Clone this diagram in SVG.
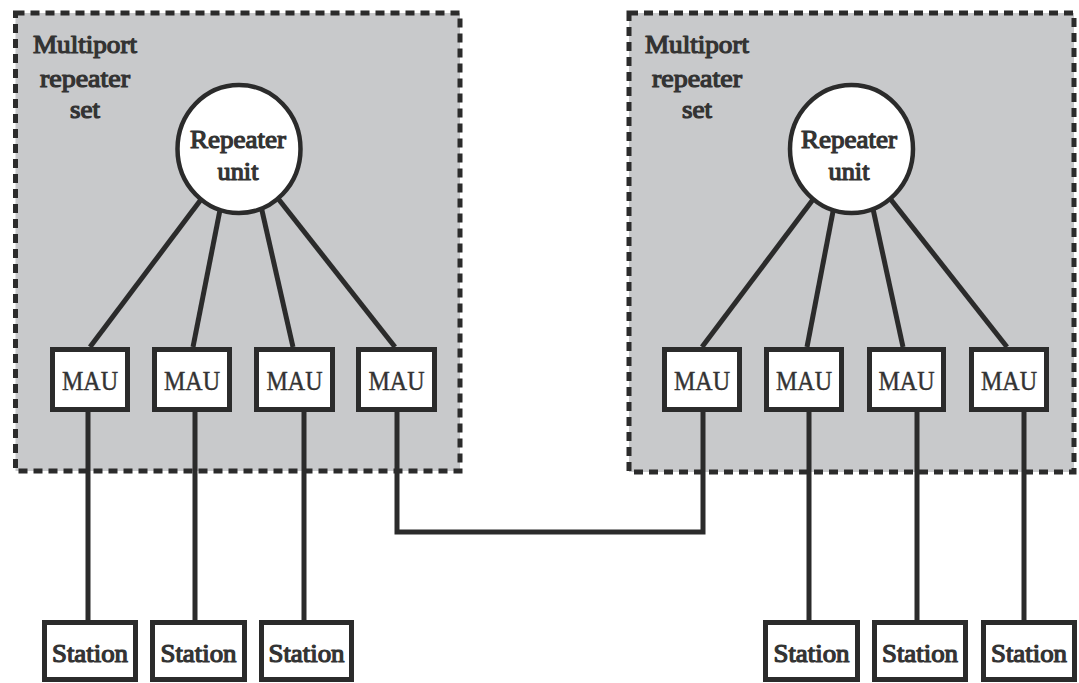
<svg xmlns="http://www.w3.org/2000/svg" width="1079" height="683" viewBox="0 0 1079 683">
  <style>
    .set { fill: #c8c9cb; stroke: #2b2b2b; stroke-width: 5; stroke-dasharray: 9 6; }
    .wire { stroke: #2b2b2b; stroke-width: 5; fill: none; }
    .box { fill: #ffffff; stroke: #2b2b2b; stroke-width: 5; }
    .hub { fill: #ffffff; stroke: #2b2b2b; stroke-width: 4.5; }
    text { font-family: 'Liberation Serif', 'Times New Roman', serif; fill: #333333; text-anchor: middle; }
    /* heavy labels: regular face thickened with a thin outline */
    .b { font-size: 25px; stroke: #333333; stroke-width: 1.2px; stroke-linejoin: round; }
    .mau { font-size: 27px; stroke: #333333; stroke-width: 0.4px; }
  </style>
  <rect width="1079" height="683" fill="#ffffff"/>

  <!-- repeater set enclosures -->
  <g id="set-left">
    <rect class="set" x="15.5" y="13" width="444.5" height="458"/>
    <text class="b" x="85" y="53" textLength="104" lengthAdjust="spacingAndGlyphs">Multiport</text>
    <text class="b" x="85" y="87" textLength="90" lengthAdjust="spacingAndGlyphs">repeater</text>
    <text class="b" x="85" y="118" textLength="30" lengthAdjust="spacingAndGlyphs">set</text>
  </g>
  <g id="set-right">
    <rect class="set" x="629" y="13" width="445" height="459"/>
    <text class="b" x="697" y="53" textLength="104" lengthAdjust="spacingAndGlyphs">Multiport</text>
    <text class="b" x="697" y="87" textLength="90" lengthAdjust="spacingAndGlyphs">repeater</text>
    <text class="b" x="697" y="118" textLength="30" lengthAdjust="spacingAndGlyphs">set</text>
  </g>

  <!-- links -->
  <g id="connectors" class="wire">
    <line x1="239" y1="149" x2="90" y2="347"/>
    <line x1="232" y1="149" x2="193" y2="347"/>
    <line x1="248" y1="149" x2="293" y2="347"/>
    <line x1="239" y1="149" x2="395" y2="347"/>
    <line x1="851" y1="149" x2="702" y2="347"/>
    <line x1="845" y1="149" x2="807" y2="347"/>
    <line x1="860" y1="149" x2="903" y2="347"/>
    <line x1="851" y1="149" x2="1007" y2="347"/>
    <line x1="88" y1="410" x2="88" y2="622"/>
    <line x1="195" y1="410" x2="195" y2="622"/>
    <line x1="304" y1="410" x2="304" y2="622"/>
    <line x1="809" y1="410" x2="809" y2="622"/>
    <line x1="917" y1="410" x2="917" y2="622"/>
    <line x1="1024" y1="410" x2="1024" y2="622"/>
    <polyline points="397,410 397,532 703,532 703,410"/>
  </g>

  <g id="repeater-left">
    <ellipse class="hub" cx="239" cy="149" rx="61.5" ry="64"/>
    <text class="b" x="238" y="148" textLength="96" lengthAdjust="spacingAndGlyphs">Repeater</text>
    <text class="b" x="238" y="180" textLength="41" lengthAdjust="spacingAndGlyphs">unit</text>
  </g>
  <g id="repeater-right">
    <ellipse class="hub" cx="851.5" cy="149" rx="61.5" ry="64"/>
    <text class="b" x="849" y="148" textLength="96" lengthAdjust="spacingAndGlyphs">Repeater</text>
    <text class="b" x="849" y="180" textLength="41" lengthAdjust="spacingAndGlyphs">unit</text>
  </g>

  <!-- medium attachment units -->
  <g id="mau-l1"><rect class="box" x="52.5" y="349.5" width="75" height="60"/><text class="mau" x="90" y="390" textLength="56" lengthAdjust="spacingAndGlyphs">MAU</text></g>
  <g id="mau-l2"><rect class="box" x="154.5" y="349.5" width="75" height="60"/><text class="mau" x="192" y="390" textLength="56" lengthAdjust="spacingAndGlyphs">MAU</text></g>
  <g id="mau-l3"><rect class="box" x="256.5" y="349.5" width="76" height="60"/><text class="mau" x="294.5" y="390" textLength="56" lengthAdjust="spacingAndGlyphs">MAU</text></g>
  <g id="mau-l4"><rect class="box" x="358.5" y="349.5" width="76" height="60"/><text class="mau" x="396.5" y="390" textLength="56" lengthAdjust="spacingAndGlyphs">MAU</text></g>
  <g id="mau-r1"><rect class="box" x="664.5" y="349.5" width="75" height="60"/><text class="mau" x="702" y="390" textLength="56" lengthAdjust="spacingAndGlyphs">MAU</text></g>
  <g id="mau-r2"><rect class="box" x="766.5" y="349.5" width="75" height="60"/><text class="mau" x="804" y="390" textLength="56" lengthAdjust="spacingAndGlyphs">MAU</text></g>
  <g id="mau-r3"><rect class="box" x="869.5" y="349.5" width="74" height="60"/><text class="mau" x="906.5" y="390" textLength="56" lengthAdjust="spacingAndGlyphs">MAU</text></g>
  <g id="mau-r4"><rect class="box" x="971.5" y="349.5" width="75" height="60"/><text class="mau" x="1009" y="390" textLength="56" lengthAdjust="spacingAndGlyphs">MAU</text></g>

  <!-- stations -->
  <g id="station-l1"><rect class="box" x="44.5" y="622.5" width="91" height="57"/><text class="b" x="90" y="662" textLength="76" lengthAdjust="spacingAndGlyphs">Station</text></g>
  <g id="station-l2"><rect class="box" x="152.5" y="622.5" width="92" height="57"/><text class="b" x="198.5" y="662" textLength="76" lengthAdjust="spacingAndGlyphs">Station</text></g>
  <g id="station-l3"><rect class="box" x="261.5" y="622.5" width="90" height="57"/><text class="b" x="306.5" y="662" textLength="76" lengthAdjust="spacingAndGlyphs">Station</text></g>
  <g id="station-r1"><rect class="box" x="765.5" y="622.5" width="92" height="57"/><text class="b" x="811.5" y="662" textLength="76" lengthAdjust="spacingAndGlyphs">Station</text></g>
  <g id="station-r2"><rect class="box" x="874.5" y="622.5" width="91" height="57"/><text class="b" x="920" y="662" textLength="76" lengthAdjust="spacingAndGlyphs">Station</text></g>
  <g id="station-r3"><rect class="box" x="983.5" y="622.5" width="91" height="57"/><text class="b" x="1029" y="662" textLength="76" lengthAdjust="spacingAndGlyphs">Station</text></g>
</svg>
